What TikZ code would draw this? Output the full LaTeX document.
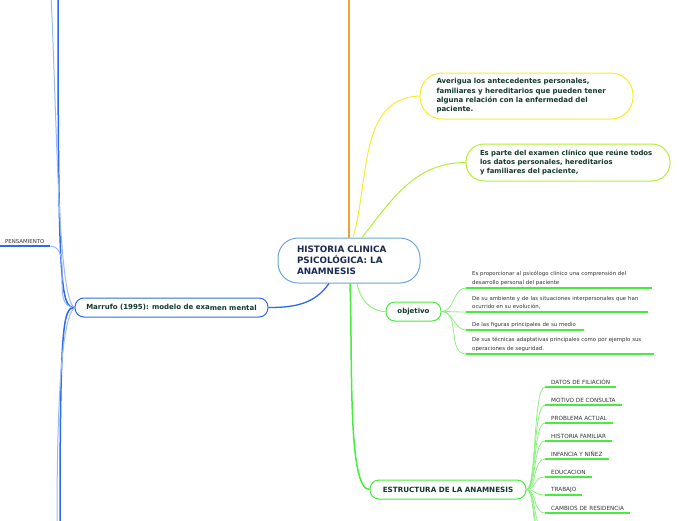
\documentclass[tikz,border=0pt]{standalone}
\usepackage{fontspec}
\setmainfont{DejaVu Sans}
\usetikzlibrary{positioning}
\definecolor{navytext}{HTML}{1B2A52}
\definecolor{darktext}{HTML}{12382E}
\definecolor{greytext}{HTML}{333333}
\definecolor{skyline}{HTML}{6AA6DC}
\definecolor{orangeline}{HTML}{F8A132}
\definecolor{yellowline}{HTML}{F8EC2C}
\definecolor{limeline}{HTML}{B2EE36}
\definecolor{greenline}{HTML}{44EE3A}
\definecolor{paleline}{HTML}{8CF27E}
\definecolor{blueline}{HTML}{2D6AF0}
\definecolor{paleblue}{HTML}{9BBBF6}
\tikzset{
  topic/.style={draw, fill=white, line width=1pt, text=darktext,
    font=\bfseries\fontsize{7}{9.3}\selectfont},
  central/.style={topic, draw=skyline, rounded corners=20pt, text=navytext,
    minimum width=142pt, minimum height=45pt, text width=104pt, align=left,
    font=\bfseries\fontsize{8.8}{11}\selectfont},
  pill/.style={topic, rounded corners=9pt, minimum height=19pt, inner xsep=0pt},
  leaf/.style={anchor=south west, inner xsep=6pt, inner ysep=2.5pt, text=greytext,
    font=\fontsize{5.4}{8.2}\selectfont, align=left},
  capleaf/.style={leaf, font=\fontsize{5.7}{8}\selectfont},
  underline/.style={draw=greenline, line width=2pt},
  twig/.style={draw=paleline, line width=0.8pt},
  fan/.style={out=0, in=180, out distance=10pt, in distance=12pt}
}
\begin{document}
\begin{tikzpicture}[x=1pt, y=-1pt]
  \clip (0,0) rectangle (696,520);
  % main nodes
  \node[central] (centre) at (349,260.5) {HISTORIA CLINICA\\PSICOLÓGICA: LA\\ANAMNESIS};
  \node[topic, draw=yellowline, rounded corners=22pt, minimum width=213pt,
    minimum height=46pt, text width=180pt, inner xsep=16.5pt, align=left,
    font=\bfseries\fontsize{7}{9.3}\selectfont] (averigua) at (526.5,96)
    {Averigua los antecedentes personales,\\familiares y hereditarios que pueden tener\\alguna relación con la enfermedad del\\paciente.};
  \node[topic, draw=limeline, rounded corners=18pt, minimum width=204pt,
    minimum height=37pt, text width=176pt, inner xsep=14pt, align=left,
    font=\bfseries\fontsize{6.9}{9.2}\selectfont] (examen) at (568,162.5)
    {Es parte del examen clínico que reúne todos\\los datos personales, hereditarios\\y familiares del paciente,};
  \node[pill, draw=greenline, minimum width=55pt] (objetivo) at (413.5,311.5) {objetivo};
  \node[pill, draw=greenline, minimum width=156pt,
    font=\bfseries\fontsize{7.2}{9}\selectfont] (estructura) at (448,489.5) {ESTRUCTURA DE LA ANAMNESIS};
  \node[pill, draw=blueline, minimum width=193pt] (marrufo) at (171.5,307.5) {Marrufo (1995): modelo de exa\raisebox{-0.6pt}{men mental}};
  \coordinate (top) at (349,-5);

  % objetivo leaves
  \node[leaf, text width=174pt] (obj1) at (466,288) {Es proporcionar al psicólogo clínico una comprensión del\\desarrollo personal del paciente};
  \node[leaf, text width=170pt] (obj2) at (466,312) {De su ambiente y de las situaciones interpersonales que han\\ocurrido en su evolución,};
  \node[leaf, text width=106pt] (obj3) at (466,330) {De las figuras principales de su medio};
  \node[leaf, text width=176pt] (obj4) at (466,354) {De sus técnicas adaptativas principales como por ejemplo sus\\operaciones de seguridad.};

  % estructura leaves
  \node[capleaf] (filiacion) at (545,387) {DATOS DE FILIACIÓN};
  \node[capleaf] (motivo) at (545,405) {MOTIVO DE CONSULTA};
  \node[capleaf] (problema) at (545,423) {PROBLEMA ACTUAL};
  \node[capleaf] (familiar) at (545,441) {HISTORIA FAMILIAR};
  \node[capleaf] (infancia) at (545,459) {INFANCIA Y NIÑEZ};
  \node[capleaf] (educacion) at (545,477) {EDUCACION};
  \node[capleaf] (trabajo) at (545,495) {TRABAJO};
  \node[capleaf] (residencia) at (545,513) {CAMBIOS DE RESIDENCIA};
  \coordinate (more1) at (545,531);
  \coordinate (more2) at (545,549);
  \coordinate (more3) at (545,567);

  % marrufo branches
  \node[capleaf, inner xsep=5pt, font=\fontsize{5.4}{8}\selectfont] (pensamiento) at (0,246) {PENSAMIENTO};
  \coordinate (upper) at (58,-5);
  \coordinate (upperpale) at (51,-5);
  \coordinate (lower) at (60,525);
  \coordinate (lowerpale) at (57,525);

  % connectors from the centre
  \draw[orangeline, line width=1.5pt] (centre.north) -- (top);
  \draw[yellowline, line width=1pt] ([xshift=4pt]centre.north) to[out=74, in=182] (averigua.west);
  \draw[limeline, line width=1pt] ([xshift=13pt]centre.north) to[out=52, in=180] (examen.west);
  \draw[blueline, line width=1.3pt] ([xshift=-20pt]centre.south) to[out=-125, in=0] (marrufo.east);
  \draw[greenline, line width=1.5pt] ([xshift=1pt]centre.south) to[out=-88, in=180, out distance=80pt, in distance=22pt] (estructura.west);
  \draw[paleline, line width=1pt] ([xshift=8pt]centre.south) to[out=-80, in=180] (objetivo.west);

  % objetivo
  \foreach \n in {obj1,obj2,obj3,obj4}
    \draw[twig] (objetivo.east) to[out=0, in=180] (\n.south west);
  \draw[underline] (obj1.south west) -- (obj1.south east);
  \draw[underline] (obj2.south west) -- (obj2.south east);
  \draw[underline] (obj3.south west) -- (obj3.south east);
  \draw[underline] (obj4.south west) -- (obj4.south east);

  % estructura
  \foreach \n in {filiacion,motivo,problema,familiar,infancia,educacion,trabajo,residencia}
    \draw[twig] (estructura.east) to[fan] (\n.south west);
  \foreach \n in {more1,more2,more3}
    \draw[twig] (estructura.east) to[fan] (\n);
  \foreach \n in {filiacion,motivo,problema,familiar,infancia,educacion,trabajo,residencia}
    \draw[underline] (\n.south west) -- (\n.south east);

  % marrufo
  \draw[blueline, line width=1.5pt] (marrufo.west) .. controls (61,307.5) and (58,292) .. (upper);
  \draw[paleblue, line width=1pt] (marrufo.west) .. controls (58,300) and (57,120) .. (upperpale);
  \draw[paleblue, line width=1pt] (marrufo.west) to[out=180, in=0] (pensamiento.south east);
  \draw[blueline, line width=1.5pt] (pensamiento.south west) -- (pensamiento.south east);
  \draw[blueline, line width=1.5pt] (marrufo.west) .. controls (63,307.5) and (60,325) .. (lower);
  \draw[paleblue, line width=1pt] (marrufo.west) .. controls (60,320) and (57,420) .. (lowerpale);
\end{tikzpicture}
\end{document}
